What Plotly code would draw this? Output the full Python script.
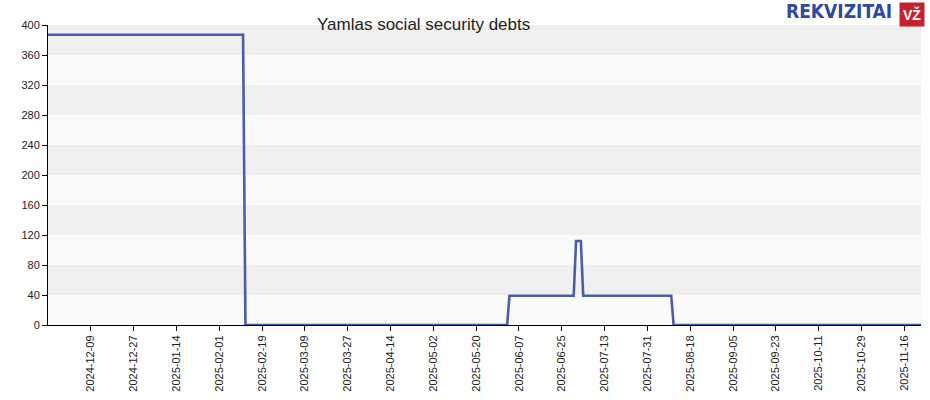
import plotly.graph_objects as go

dates = ["2024-11-21", "2025-02-11", "2025-02-12", "2025-06-02", "2025-06-03",
         "2025-06-30", "2025-07-01", "2025-07-03", "2025-07-04", "2025-08-10",
         "2025-08-11", "2025-11-23"]
values = [387, 387, 0, 0, 39, 39, 112, 112, 39, 39, 0, 0]

tick_dates = ["2024-12-09", "2024-12-27", "2025-01-14", "2025-02-01", "2025-02-19",
              "2025-03-09", "2025-03-27", "2025-04-14", "2025-05-02", "2025-05-20",
              "2025-06-07", "2025-06-25", "2025-07-13", "2025-07-31", "2025-08-18",
              "2025-09-05", "2025-09-23", "2025-10-11", "2025-10-29", "2025-11-16"]
y_ticks = [0, 40, 80, 120, 160, 200, 240, 280, 320, 360, 400]
title = "Yamlas social security debts"

W, H = 930, 400
L, R, T, B = 48, 9, 25, 75
PW = W - L - R

fig = go.Figure()
fig.add_trace(go.Scatter(x=dates, y=values, mode="lines",
                         line=dict(color="#4a5ea8", width=2.6), hoverinfo="x+y"))

shapes = []
for i in range(len(y_ticks) - 1):
    shapes.append(dict(type="rect", xref="paper", yref="y", x0=0, x1=1,
                       y0=y_ticks[i], y1=y_ticks[i + 1], line=dict(width=0),
                       fillcolor="#f0f0f0" if i % 2 == 1 else "#fafafa", layer="below"))

fig.update_layout(
    width=W, height=H,
    margin=dict(l=L, r=R, t=T, b=B),
    paper_bgcolor="white", plot_bgcolor="#fafafa",
    showlegend=False,
    shapes=shapes,
    font=dict(family="Liberation Sans, Arial, sans-serif", size=11, color="#222"),
    xaxis=dict(range=["2024-11-21", "2025-11-23"], tickvals=tick_dates, ticktext=tick_dates,
               tickangle=-90, ticks="outside", ticklen=5, tickcolor="#000", automargin=False,
               showline=True, linecolor="#000", linewidth=1, showgrid=False, zeroline=False,
               tickfont=dict(size=11)),
    yaxis=dict(range=[0, 400], tickvals=y_ticks, ticks="outside", ticklen=5, tickcolor="#000",
               automargin=False,
               showline=True, linecolor="#000", linewidth=1, showgrid=False, zeroline=False,
               tickfont=dict(size=11)),
)
fig.add_annotation(text=title, xref="paper", yref="paper", x=(423.5 - L) / PW, y=1, yshift=1,
                   xanchor="center", yanchor="middle", showarrow=False,
                   font=dict(size=17, color="#222", family="Liberation Sans, Arial, sans-serif"))
fig.add_annotation(
    text="<b>REKVIZITAI</b>",
    xref="paper", yref="paper", x=(894 - L) / PW, y=1, yshift=T + 2,
    xanchor="right", yanchor="top", showarrow=False,
    font=dict(size=19, color="#3048a0",
              family="DejaVu Sans Condensed, Liberation Sans Narrow, Liberation Sans, sans-serif"))
fig.add_annotation(text="<b>VŽ</b>", xref="paper", yref="paper", x=(911.5 - L) / PW, y=1, yshift=T - 2,
                   xanchor="center", yanchor="top", showarrow=False, bgcolor="#c8202f",
                   font=dict(size=14, color="white", family="Liberation Sans, Arial, sans-serif"),
                   borderpad=3)
fig.write_html("out.html", config={"displayModeBar": False},
               post_script="document.body.style.margin='0';")
